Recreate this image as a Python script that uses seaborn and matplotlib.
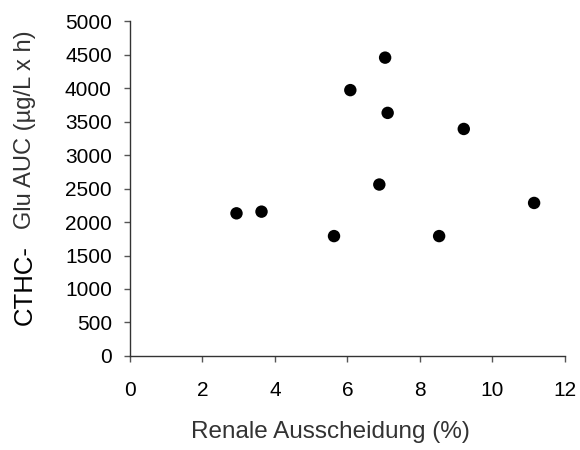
import pandas as pd
import seaborn as sns
import matplotlib.pyplot as plt

# --- dados ---
renale_ausscheidung = [2.94, 3.63, 5.63, 6.08, 6.88, 7.04, 7.11, 8.53, 9.21, 11.15]
glu_auc = [2130, 2155, 1790, 3970, 2560, 4455, 3630, 1790, 3390, 2285]

x_ticks = [0, 2, 4, 6, 8, 10, 12]
y_ticks = [0, 500, 1000, 1500, 2000, 2500, 3000, 3500, 4000, 4500, 5000]

sns.set_style('white')
plt.rcParams['font.family'] = ['Liberation Sans', 'DejaVu Sans']

df = pd.DataFrame({'x': renale_ausscheidung, 'y': glu_auc})

fig = plt.figure(figsize=(5.8, 4.5), dpi=100)
ax = fig.add_axes([0.224, 0.209, 0.750, 0.744])

sns.scatterplot(data=df, x='x', y='y', ax=ax, color='black', s=80,
                edgecolor='none', clip_on=False)

ax.set_xlim(0, 12)
ax.set_ylim(0, 5000)
ax.set_xticks(x_ticks)
ax.set_yticks(y_ticks)
ax.tick_params(axis='both', labelsize=15, colors='#555555', labelcolor='black',
               direction='out', length=4, width=1, left=True, bottom=True)
ax.tick_params(axis='y', pad=9)
ax.tick_params(axis='x', pad=14)

for side in ['top', 'right']:
    ax.spines[side].set_visible(False)
for side in ['left', 'bottom']:
    ax.spines[side].set_color('#333333')
    ax.spines[side].set_linewidth(1)

ax.set_xlabel('Renale Ausscheidung (%)', fontsize=17.5, color='#333333')
ax.xaxis.set_label_coords(0.462, -0.195)
ax.set_ylabel('')

# rótulo do eixo y com dois tamanhos de fonte
fig.text(0.042, 1 - 325 / 450, 'CTHC-', rotation=90, fontsize=18.5,
         ha='center', va='bottom', color='black')
fig.text(0.043, 1 - 130 / 450, 'Glu AUC (µg/L x h)', rotation=90, fontsize=17,
         ha='center', va='center', color='#333333')

fig.savefig('out.png', dpi=100)
